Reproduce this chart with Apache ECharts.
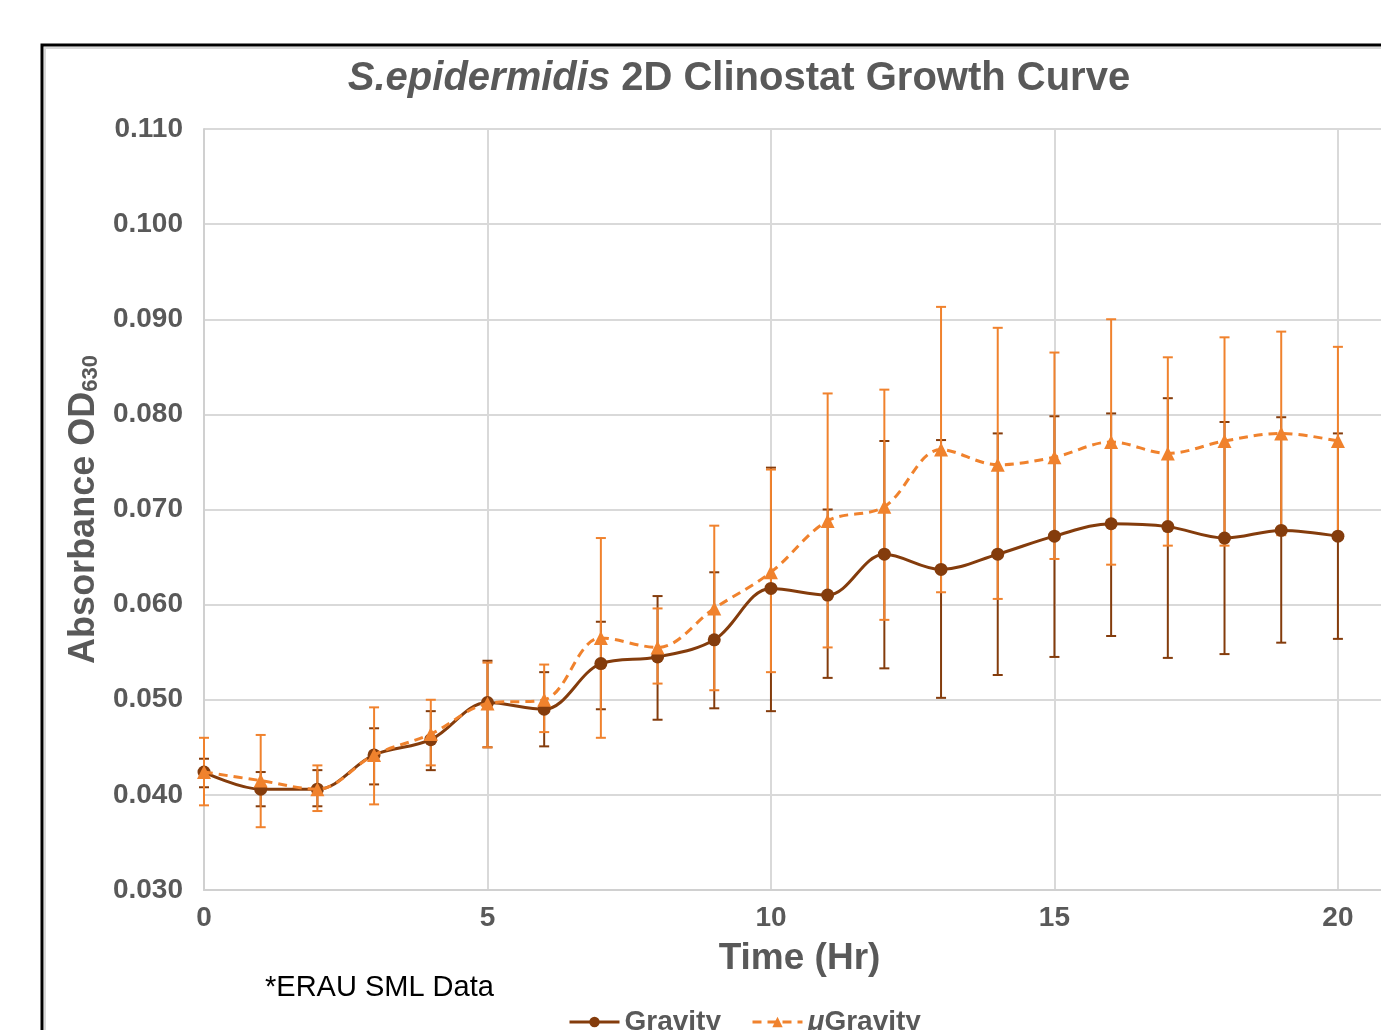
<!DOCTYPE html>
<html>
<head>
<meta charset="utf-8">
<script src="https://cdn.jsdelivr.net/npm/echarts@6/dist/echarts.min.js"></script>
<style>
html,body{margin:0;padding:0;background:#fff;}
#chart{width:1381px;height:1030px;}
</style>
</head>
<body>
<div id="chart"></div>
<script>
// ---- data ----
var times = [0,1,2,3,4,5,6,7,8,9,10,11,12,13,14,15,16,17,18,19,20];
var gravity     = [0.0424,0.0406,0.0406,0.0442,0.0458,0.0497,0.0490,0.0538,0.0545,0.0563,0.0617,0.0610,0.0653,0.0637,0.0653,0.0672,0.0685,0.0682,0.0670,0.0678,0.0672];
var gravityHigh = [0.0438,0.0424,0.0426,0.0470,0.0488,0.0541,0.0529,0.0582,0.0609,0.0634,0.0744,0.0700,0.0772,0.0773,0.0780,0.0798,0.0801,0.0817,0.0792,0.0797,0.0780];
var gravityLow  = [0.0408,0.0388,0.0388,0.0411,0.0426,0.0450,0.0451,0.0490,0.0479,0.0491,0.0488,0.0523,0.0533,0.0502,0.0526,0.0545,0.0567,0.0544,0.0548,0.0560,0.0564];
var ugravity     = [0.0424,0.0415,0.0406,0.0442,0.0464,0.0496,0.0500,0.0565,0.0555,0.0596,0.0634,0.0688,0.0703,0.0763,0.0747,0.0755,0.0771,0.0759,0.0772,0.0780,0.0772];
var ugravityHigh = [0.0460,0.0463,0.0431,0.0492,0.0500,0.0539,0.0537,0.0670,0.0596,0.0683,0.0742,0.0822,0.0826,0.0913,0.0891,0.0865,0.0900,0.0860,0.0881,0.0887,0.0871];
var ugravityLow  = [0.0389,0.0366,0.0383,0.0390,0.0431,0.0450,0.0466,0.0460,0.0517,0.0510,0.0529,0.0555,0.0584,0.0613,0.0606,0.0648,0.0642,0.0662,0.0662,0.0673,0.0673];
var seriesNames = ['Gravity', 'μGravity'];

var DARK = '#843C0C';
var ORANGE = '#F0822D';
var GRAY = '#595959';
var FONT = '"Liberation Sans", Arial, sans-serif';

function pairs(xs, ys) { return xs.map(function (x, i) { return [x, ys[i]]; }); }
function errData(xs, lo, hi) { return xs.map(function (x, i) { return [x, lo[i], hi[i]]; }); }

function errRenderer(color) {
  return function (params, api) {
    var x = api.value(0);
    var p1 = api.coord([x, api.value(1)]);
    var p2 = api.coord([x, api.value(2)]);
    var w = 5;
    var st = { stroke: color, lineWidth: 2 };
    return {
      type: 'group',
      children: [
        { type: 'line', shape: { x1: p1[0], y1: p1[1], x2: p2[0], y2: p2[1] }, style: st },
        { type: 'line', shape: { x1: p1[0] - w, y1: p1[1], x2: p1[0] + w, y2: p1[1] }, style: st },
        { type: 'line', shape: { x1: p2[0] - w, y1: p2[1], x2: p2[0] + w, y2: p2[1] }, style: st }
      ]
    };
  };
}

var chart = echarts.init(document.getElementById('chart'), null, { renderer: 'canvas' });
chart.setOption({
  animation: false,
  backgroundColor: '#fff',
  textStyle: { fontFamily: FONT },
  grid: { left: 204, top: 129, bottom: 140, right: 0, containLabel: false },
  graphic: [
    { type: 'rect', z: 100, silent: true,
      shape: { x: 42, y: 45, width: 1400, height: 1000 },
      style: { fill: 'none', stroke: '#000', lineWidth: 3 } },
    { type: 'rect', z: 99, silent: true,
      shape: { x: 45, y: 48, width: 1400, height: 1000 },
      style: { fill: 'none', stroke: '#d9d9d9', lineWidth: 2 } },
    { type: 'text', z: 100, silent: true,
      style: {
        x: 739, y: 79, align: 'center', verticalAlign: 'middle',
        text: '{i|S.epidermidis}{b| 2D Clinostat Growth Curve}',
        rich: {
          i: { fontFamily: FONT, fontSize: 40, fontWeight: 'bold', fontStyle: 'italic', fill: GRAY },
          b: { fontFamily: FONT, fontSize: 40, fontWeight: 'bold', fill: GRAY }
        }
      } },
    { type: 'text', z: 100, silent: true,
      style: {
        x: 265, y: 988, align: 'left', verticalAlign: 'middle',
        text: '*ERAU SML Data', fontFamily: FONT, fontSize: 29, fill: '#000'
      } }
  ],
  legend: {
    left: 563, top: 1003,
    itemWidth: 50, itemHeight: 13, itemGap: 30,
    data: seriesNames.slice(),
    lineStyle: { width: 3 },
    formatter: function (n) { return n === 'μGravity' ? '{i|μ}{t|Gravity}' : '{t|' + n + '}'; },
    textStyle: {
      fontFamily: FONT, fontSize: 28, fontWeight: 'bold', color: GRAY,
      rich: {
        t: { fontFamily: FONT, fontSize: 28, fontWeight: 'bold', color: GRAY },
        i: { fontFamily: FONT, fontSize: 28, fontWeight: 'bold', fontStyle: 'italic', color: GRAY }
      }
    }
  },
  xAxis: {
    type: 'value', min: 0, max: 20.76, interval: 5,
    name: 'Time (Hr)', nameLocation: 'middle', nameGap: 50,
    nameTextStyle: { fontFamily: FONT, fontSize: 37, fontWeight: 'bold', color: GRAY, padding: [0, 0, 0, 14] },
    axisLine: { show: true, lineStyle: { color: '#d0d0d0', width: 2 } },
    axisTick: { show: false },
    axisLabel: { margin: 14, fontFamily: FONT, fontSize: 28, fontWeight: 'bold', color: GRAY, showMaxLabel: false,
      formatter: function (v) { return Math.abs(v % 5) < 1e-9 ? String(v) : ''; } },
    splitLine: { show: true, showMaxLine: false, lineStyle: { color: '#d9d9d9', width: 2 } }
  },
  yAxis: {
    type: 'value', min: 0.03, max: 0.11, interval: 0.01,
    name: '{a|Absorbance OD}{s|630}', nameLocation: 'middle', nameGap: 99, nameRotate: 90,
    nameTextStyle: {
      rich: {
        a: { fontFamily: FONT, fontSize: 36, fontWeight: 'bold', color: GRAY },
        s: { fontFamily: FONT, fontSize: 22, fontWeight: 'bold', color: GRAY, verticalAlign: 'bottom', padding: [14, 0, 0, 0] }
      }
    },
    axisLine: { show: true, lineStyle: { color: '#d0d0d0', width: 2 } },
    axisTick: { show: false },
    axisLabel: { margin: 21, fontFamily: FONT, fontSize: 28, fontWeight: 'bold', color: GRAY,
      formatter: function (v) { return v.toFixed(3); } },
    splitLine: { show: true, lineStyle: { color: '#d9d9d9', width: 2 } }
  },
  series: [
    { type: 'custom', name: 'gErr', z: 2, renderItem: errRenderer(DARK),
      data: errData(times, gravityLow, gravityHigh), encode: { x: 0, y: [1, 2] } },
    { type: 'custom', name: 'uErr', z: 3, renderItem: errRenderer(ORANGE),
      data: errData(times, ugravityLow, ugravityHigh), encode: { x: 0, y: [1, 2] } },
    { type: 'line', name: seriesNames[0], z: 4, smooth: 0.35,
      data: pairs(times, gravity),
      symbol: 'circle', symbolSize: 13,
      itemStyle: { color: DARK },
      lineStyle: { color: DARK, width: 3 } },
    { type: 'line', name: seriesNames[1], z: 5, smooth: 0.35,
      data: pairs(times, ugravity),
      symbol: 'triangle', symbolSize: 14,
      itemStyle: { color: ORANGE },
      lineStyle: { color: ORANGE, width: 3, type: [9, 6] } }
  ]
});
</script>
</body>
</html>
